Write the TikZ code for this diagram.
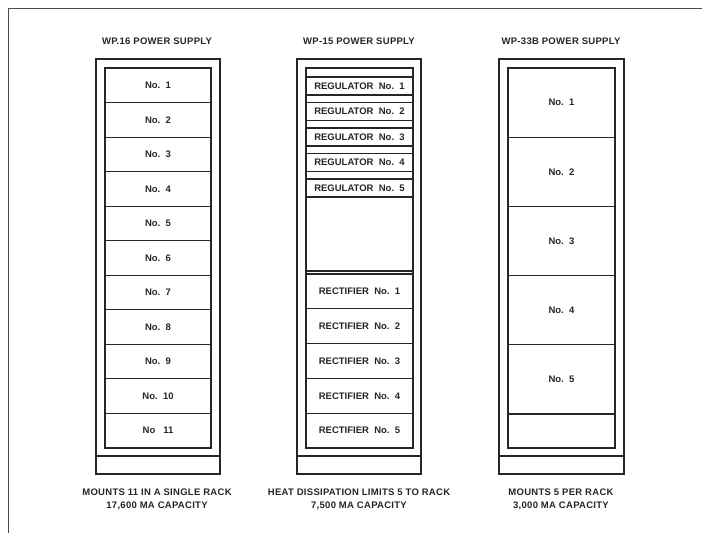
\documentclass[tikz,border=0pt]{standalone}
\usepackage{fontspec}
\setmainfont{Liberation Sans}
\newfontfamily\spacedfont[LetterSpace=3]{Liberation Sans}
\begin{document}
\begin{tikzpicture}[x=1pt,y=-1pt,
  rackline/.style={draw=black!85, line width=1.1pt},
  lbl/.style={font=\spacedfont\fontsize{9.5}{13}\selectfont\bfseries, text=black!85, inner sep=0pt, align=center},
  slot/.style={rackline, rectangle, inner sep=0pt, font=\fontsize{9.5}{11}\selectfont\bfseries, text=black!85}]
\useasboundingbox[fill=white] (0,0) rectangle (702,534);
% frame
\draw[draw=black!70, line width=1pt] (8,533) -- (8,9) -- (702,9);

% titles
\node[lbl] (t1) at (157,41) {WP.16 POWER SUPPLY};
\node[lbl] (t2) at (359,41) {WP-15 POWER SUPPLY};
\node[lbl] (t3) at (561,41) {WP-33B POWER SUPPLY};

% rack 1
\draw[rackline] (96,59) rectangle (220,474);
\draw[rackline] (105,68) rectangle (211,448);
\draw[rackline] (96,456) -- (220,456);
\foreach \i/\t in {1/No.\ \ 1,2/No.\ \ 2,3/No.\ \ 3,4/No.\ \ 4,5/No.\ \ 5,6/No.\ \ 6,7/No.\ \ 7,8/No.\ \ 8,9/No.\ \ 9,10/No.\ \ 10,11/No\ \ \ 11}{
  \node[slot, minimum width=106pt, minimum height=34.545pt] (a\i) at (158,{68+34.545*(\i-0.5)}) {\t};
}

% rack 2
\draw[rackline] (297,59) rectangle (421,474);
\draw[rackline] (306,68) rectangle (413,448);
\draw[rackline] (297,456) -- (421,456);
\foreach \i in {1,...,5}{
  \node[slot, minimum width=107pt, minimum height=18pt] (g\i) at (359.5,{77+25.5*(\i-1)+9}) {REGULATOR\ \ No.\ \ \i};
}
\draw[rackline] (g5.south west) -- (g5.south east);
\draw[rackline] (306,271) -- (413,271);
\foreach \i in {1,...,5}{
  \node[slot, minimum width=107pt, minimum height=34.8pt] (c\i) at (359.5,{274+34.8*(\i-0.5)}) {RECTIFIER\ \ No.\ \ \i};
}

% rack 3
\draw[rackline] (499,59) rectangle (624,474);
\draw[rackline] (508,68) rectangle (615,448);
\draw[rackline] (499,456) -- (624,456);
\foreach \i in {1,...,5}{
  \node[slot, minimum width=107pt, minimum height=69.2pt] (b\i) at (561.5,{68+69.2*(\i-0.5)}) {No.\ \ \i};
}
\node[slot, minimum width=107pt, minimum height=34pt] (b6) at (561.5,431) {};

% captions
\node[lbl] (k1) at (157,499.5) {MOUNTS 11 IN A SINGLE RACK\\17,600 MA CAPACITY};
\node[lbl] (k2) at (359,499.5) {HEAT DISSIPATION LIMITS 5 TO RACK\\7,500 MA CAPACITY};
\node[lbl] (k3) at (561,499.5) {MOUNTS 5 PER RACK\\3,000 MA CAPACITY};
\end{tikzpicture}
\end{document}
